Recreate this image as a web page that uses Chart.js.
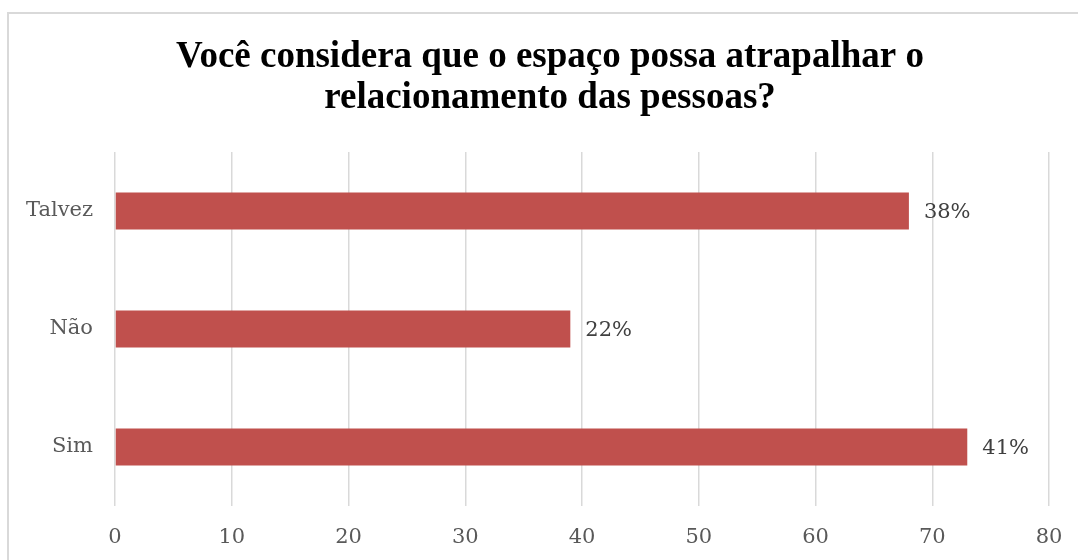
<!DOCTYPE html>
<html>
<head>
<meta charset="utf-8">
<script src="https://cdn.jsdelivr.net/npm/chart.js@4.4.0/dist/chart.umd.min.js"></script>
<style>
  html, body { margin: 0; padding: 0; background: #fff; overflow: hidden; }
  #wrap { position: relative; width: 1078px; height: 560px; }
  #frame { position: absolute; left: 7px; top: 12px; width: 1200px; height: 700px;
           border: 2px solid #d9d9d9; box-sizing: border-box; }
  canvas { position: absolute; left: 0; top: 0; }
</style>
</head>
<body>
<div id="wrap">
  <div id="frame"></div>
  <canvas id="chart" width="1078" height="560"></canvas>
</div>
<script>
const titleLines = ['Você considera que o espaço possa atrapalhar o', 'relacionamento das pessoas?'];
const categories = ['Talvez', 'Não', 'Sim'];
const values = [68, 39, 73];
const valueLabels = ['38%', '22%', '41%'];
const xTicks = [0, 10, 20, 30, 40, 50, 60, 70, 80];

const labelFont = '21px "DejaVu Serif"';

// percentage text to the right of each bar, and the title centred on the chart box
const extras = {
  id: 'extras',
  afterDatasetsDraw(chart) {
    const ctx = chart.ctx;
    const meta = chart.getDatasetMeta(0);
    ctx.save();
    ctx.font = labelFont;
    ctx.fillStyle = '#404040';
    ctx.textAlign = 'left';
    ctx.textBaseline = 'middle';
    meta.data.forEach((bar, i) => {
      ctx.fillText(valueLabels[i], bar.x + 15, bar.y + 2);
    });
    ctx.restore();
  },
  afterDraw(chart) {
    const ctx = chart.ctx;
    ctx.save();
    ctx.font = 'bold 37px "Liberation Serif"';
    ctx.fillStyle = '#000';
    ctx.textAlign = 'center';
    ctx.textBaseline = 'middle';
    titleLines.forEach((line, i) => ctx.fillText(line, 550, 57 + i * 41));
    ctx.restore();
  }
};

new Chart(document.getElementById('chart'), {
  type: 'bar',
  data: {
    labels: categories,
    datasets: [{
      data: values,
      backgroundColor: '#c0504d',
      borderWidth: 0,
      categoryPercentage: 1,
      barPercentage: 0.315
    }]
  },
  plugins: [extras],
  options: {
    indexAxis: 'y',
    responsive: false,
    animation: false,
    layout: { padding: { top: 152, right: 29, bottom: 14, left: 7 } },
    plugins: {
      legend: { display: false },
      tooltip: { enabled: false },
      title: { display: false }
    },
    scales: {
      x: {
        min: xTicks[0],
        max: xTicks[xTicks.length - 1],
        afterBuildTicks(scale) { scale.ticks = xTicks.map(v => ({ value: v })); },
        afterFit(scale) {
          scale.height = 40;
          scale.paddingLeft = 0;
          scale.paddingRight = 0;
        },
        grid: { color: '#d9d9d9', lineWidth: 1.5, drawTicks: false },
        border: { display: false },
        ticks: { color: '#595959', font: { family: '"DejaVu Serif"', size: 21 }, padding: 19 }
      },
      y: {
        afterFit(scale) { scale.width = 108; },
        grid: { display: false },
        border: { display: false },
        ticks: { color: '#595959', font: { family: '"DejaVu Serif"', size: 21 }, padding: 14 }
      }
    }
  }
});
</script>
</body>
</html>
